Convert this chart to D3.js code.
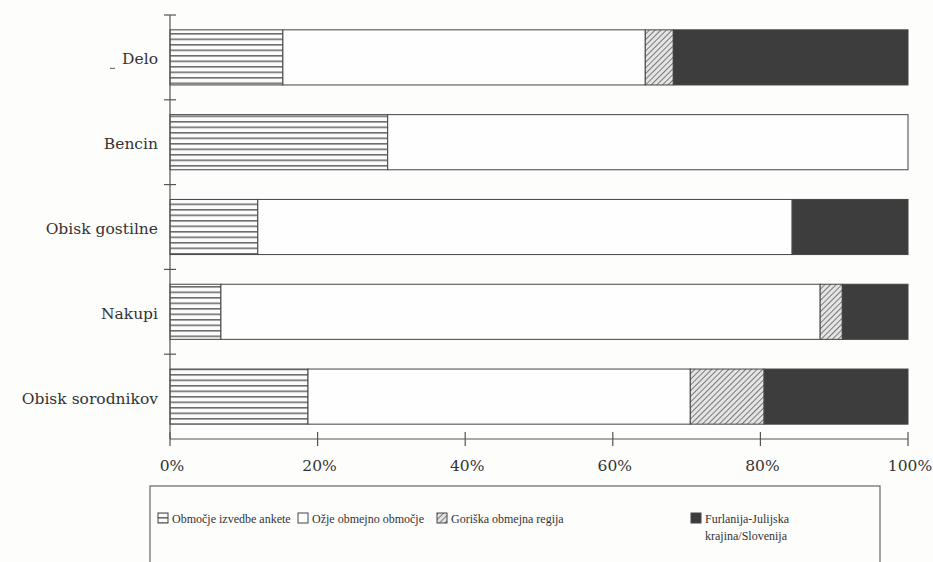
<!DOCTYPE html>
<html><head><meta charset="utf-8">
<script src="https://cdn.jsdelivr.net/npm/d3@7"></script>
<style>body{margin:0;background:#fdfdfc;}svg{display:block;}
text{font-family:"Liberation Serif","Times New Roman",serif;}
text.ax{font-family:"DejaVu Serif","Liberation Serif",serif;}</style>
</head><body>
<svg id="chart" width="933" height="562"></svg>
<script>
const categories = ["Delo", "Bencin", "Obisk gostilne", "Nakupi", "Obisk sorodnikov"];
const seriesNames = ["Območje izvedbe ankete", "Ožje obmejno območje", "Goriška obmejna regija", "Furlanija-Julijska krajina/Slovenija"];
const izvedbe   = [15.3, 29.5, 11.9, 6.9, 18.7];
const ozje      = [49.1, 70.5, 72.4, 81.2, 51.8];
const goriska   = [3.8, 0, 0, 3.0, 10.0];
const furlanija = [31.8, 0, 15.7, 8.9, 19.5];
const tickLabels = ["0%", "20%", "40%", "60%", "80%", "100%"];
const tickValues = [0, 20, 40, 60, 80, 100];

const svg = d3.select("#chart");
const defs = svg.append("defs");
const hp = defs.append("pattern").attr("id","hstripe").attr("patternUnits","userSpaceOnUse")
  .attr("width",8).attr("height",5.5);
hp.append("rect").attr("width",8).attr("height",5.5).attr("fill","#fbfbfb");
hp.append("line").attr("x1",0).attr("x2",8).attr("y1",0.8).attr("y2",0.8).attr("stroke","#5a5a5a").attr("stroke-width",1.4);
const dp = defs.append("pattern").attr("id","diag").attr("patternUnits","userSpaceOnUse")
  .attr("width",4).attr("height",4).attr("patternTransform","rotate(45)");
dp.append("rect").attr("width",4).attr("height",4).attr("fill","#e4e4e4");
dp.append("line").attr("x1",0).attr("x2",0).attr("y1",0).attr("y2",4).attr("stroke","#666").attr("stroke-width",1.7);

const fills = ["url(#hstripe)", "#fefefe", "url(#diag)", "#3d3d3d"];
const seriesData = [izvedbe, ozje, goriska, furlanija];

const x = d3.scaleLinear().domain([0,100]).range([170,908]);
const y = d3.scaleBand().domain(categories).range([15,439]).paddingInner(0.35).paddingOuter(0.175);

const stackInput = categories.map((c,i)=>{
  const o={cat:c}; seriesNames.forEach((s,k)=>o[s]=seriesData[k][i]); return o;});
const stacked = d3.stack().keys(seriesNames)(stackInput);

stacked.forEach((layer,k)=>{
  svg.append("g").selectAll("rect").data(layer.filter(d=>d[1]-d[0]>0)).join("rect")
    .attr("x",d=>x(d[0])).attr("width",d=>x(d[1])-x(d[0]))
    .attr("y",d=>y(d.data.cat)).attr("height",y.bandwidth())
    .attr("fill",fills[k]).attr("stroke","#444").attr("stroke-width",1);
});

// y axis
const yAxis = svg.append("g");
const step = y.step();
yAxis.append("line").attr("x1",x(0)).attr("x2",x(0)).attr("y1",y.range()[0]).attr("y2",y.range()[1])
  .attr("stroke","#555").attr("stroke-width",1.2);
const bounds = categories.map(c=>y(c)-step*y.paddingInner()/2);
bounds.forEach(b=>{
  yAxis.append("line").attr("x1",x(0)-6).attr("x2",x(0)+6).attr("y1",b).attr("y2",b).attr("stroke","#555").attr("stroke-width",1.2);
});
yAxis.selectAll("text").data(categories).join("text").attr("class","ax")
  .attr("x",158).attr("y",d=>y(d)+y.bandwidth()/2+7).attr("text-anchor","end")
  .attr("font-size",15.5).attr("fill","#333").text(d=>d);
yAxis.append("line").attr("x1",110).attr("x2",115).attr("y1",y("Delo")+y.bandwidth()/2+11).attr("y2",y("Delo")+y.bandwidth()/2+11).attr("stroke","#777").attr("stroke-width",1.2);

// x axis
const xAxisG = svg.append("g").attr("transform","translate(0,439)");
xAxisG.append("line").attr("x1",x(0)).attr("x2",x(100)).attr("stroke","#555").attr("stroke-width",1.2);
xAxisG.selectAll("line.t").data(tickValues).join("line").attr("class","t")
  .attr("x1",d=>x(d)).attr("x2",d=>x(d)).attr("y1",-7).attr("y2",7).attr("stroke","#555").attr("stroke-width",1.2);
xAxisG.selectAll("text").data(tickValues).join("text").attr("class","ax")
  .attr("x",d=>x(d)+2).attr("y",32).attr("text-anchor","middle")
  .attr("font-size",15.5).attr("fill","#333")
  .text((d,i)=>tickLabels[i]);

// legend
const lg = svg.append("g");
lg.append("rect").attr("x",150).attr("y",486).attr("width",730).attr("height",90)
  .attr("fill","none").attr("stroke","#666").attr("stroke-width",1.2);
const legX = [158, 298, 437, 691];
seriesNames.forEach((s,k)=>{
  lg.append("rect").attr("x",legX[k]).attr("y",513).attr("width",10).attr("height",10)
    .attr("fill",fills[k]).attr("stroke","#444").attr("stroke-width",1);
  const t = lg.append("text").attr("x",legX[k]+14).attr("y",523)
    .attr("font-size",12).attr("fill","#333");
  if (k===3) {
    t.append("tspan").attr("x",legX[k]+14).text("Furlanija-Julijska");
    t.append("tspan").attr("x",legX[k]+14).attr("dy",17).text("krajina/Slovenija");
  } else t.text(s);
});
</script>
</body></html>
